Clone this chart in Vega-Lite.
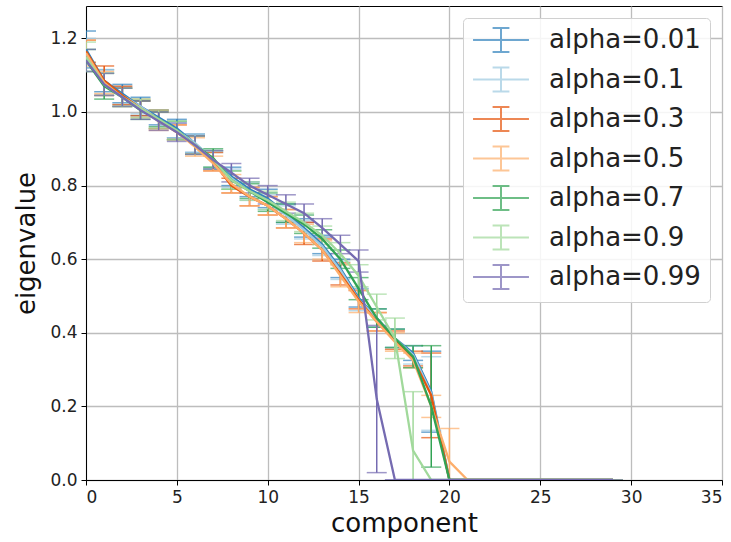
{
  "$schema": "https://vega.github.io/schema/vega-lite/v6.json",
  "autosize": {"type": "none"},
  "padding": {"left": 86, "top": 6, "right": 9, "bottom": 62},
  "width": 636,
  "height": 474,
  "background": "white",
  "config": {
    "font": "DejaVu Sans",
    "view": {"stroke": "#000", "strokeWidth": 1},
    "axis": {
      "domainColor": "#000", "domainWidth": 1,
      "tickColor": "#000", "tickSize": 5, "tickWidth": 1,
      "gridColor": "#bdbdbd", "gridWidth": 1.3,
      "labelFont": "DejaVu Sans", "labelFontSize": 17, "labelColor": "#222",
      "titleFont": "DejaVu Sans", "titleFontSize": 26, "titleFontWeight": "normal", "titleColor": "#111"
    },
    "legend": {
      "orient": "top-right", "offset": 12,
      "title": null,
      "labelFont": "DejaVu Sans", "labelFontSize": 26, "labelColor": "#222",
      "symbolType": "M-2.33,0H2.33M0,-1V1M-0.7,-1H0.7M-0.7,1H0.7",
      "symbolSize": 576, "symbolStrokeWidth": 2, "symbolOffset": 16,
      "labelOffset": 35, "rowPadding": 7.5,
      "padding": 9,
      "strokeColor": "#d0d0d0", "fillColor": "rgba(255,255,255,0.85)",
      "cornerRadius": 4
    }
  },
  "data": {"values": [
    {"c":0,"a":"alpha=0.01","m":1.17,"e":0.05},{"c":1,"a":"alpha=0.01","m":1.085,"e":0.03},{"c":2,"a":"alpha=0.01","m":1.05,"e":0.025},{"c":3,"a":"alpha=0.01","m":1.015,"e":0.025},{"c":4,"a":"alpha=0.01","m":0.985,"e":0.02},{"c":5,"a":"alpha=0.01","m":0.955,"e":0.025},{"c":6,"a":"alpha=0.01","m":0.915,"e":0.025},{"c":7,"a":"alpha=0.01","m":0.87,"e":0.025},{"c":8,"a":"alpha=0.01","m":0.825,"e":0.025},{"c":9,"a":"alpha=0.01","m":0.79,"e":0.02},{"c":10,"a":"alpha=0.01","m":0.765,"e":0.025},{"c":11,"a":"alpha=0.01","m":0.725,"e":0.025},{"c":12,"a":"alpha=0.01","m":0.685,"e":0.025},{"c":13,"a":"alpha=0.01","m":0.64,"e":0.025},{"c":14,"a":"alpha=0.01","m":0.575,"e":0.025},{"c":15,"a":"alpha=0.01","m":0.495,"e":0.025},{"c":16,"a":"alpha=0.01","m":0.44,"e":0.025},{"c":17,"a":"alpha=0.01","m":0.385,"e":0.025},{"c":18,"a":"alpha=0.01","m":0.345,"e":0.02},{"c":19,"a":"alpha=0.01","m":0.24,"e":0.11},{"c":20,"a":"alpha=0.01","m":0,"e":0},{"c":21,"a":"alpha=0.01","m":0,"e":0},{"c":22,"a":"alpha=0.01","m":0,"e":0},{"c":23,"a":"alpha=0.01","m":0,"e":0},{"c":24,"a":"alpha=0.01","m":0,"e":0},{"c":25,"a":"alpha=0.01","m":0,"e":0},{"c":26,"a":"alpha=0.01","m":0,"e":0},{"c":27,"a":"alpha=0.01","m":0,"e":0},{"c":28,"a":"alpha=0.01","m":0,"e":0},{"c":29,"a":"alpha=0.01","m":0,"e":0},
    {"c":0,"a":"alpha=0.1","m":1.16,"e":0.04},{"c":1,"a":"alpha=0.1","m":1.08,"e":0.035},{"c":2,"a":"alpha=0.1","m":1.045,"e":0.025},{"c":3,"a":"alpha=0.1","m":1.015,"e":0.02},{"c":4,"a":"alpha=0.1","m":0.98,"e":0.025},{"c":5,"a":"alpha=0.1","m":0.95,"e":0.02},{"c":6,"a":"alpha=0.1","m":0.915,"e":0.025},{"c":7,"a":"alpha=0.1","m":0.87,"e":0.02},{"c":8,"a":"alpha=0.1","m":0.82,"e":0.025},{"c":9,"a":"alpha=0.1","m":0.785,"e":0.025},{"c":10,"a":"alpha=0.1","m":0.755,"e":0.02},{"c":11,"a":"alpha=0.1","m":0.72,"e":0.025},{"c":12,"a":"alpha=0.1","m":0.68,"e":0.025},{"c":13,"a":"alpha=0.1","m":0.635,"e":0.025},{"c":14,"a":"alpha=0.1","m":0.57,"e":0.025},{"c":15,"a":"alpha=0.1","m":0.49,"e":0.03},{"c":16,"a":"alpha=0.1","m":0.44,"e":0.025},{"c":17,"a":"alpha=0.1","m":0.385,"e":0.025},{"c":18,"a":"alpha=0.1","m":0.34,"e":0.025},{"c":19,"a":"alpha=0.1","m":0.235,"e":0.1},{"c":20,"a":"alpha=0.1","m":0,"e":0},{"c":21,"a":"alpha=0.1","m":0,"e":0},{"c":22,"a":"alpha=0.1","m":0,"e":0},{"c":23,"a":"alpha=0.1","m":0,"e":0},{"c":24,"a":"alpha=0.1","m":0,"e":0},{"c":25,"a":"alpha=0.1","m":0,"e":0},{"c":26,"a":"alpha=0.1","m":0,"e":0},{"c":27,"a":"alpha=0.1","m":0,"e":0},{"c":28,"a":"alpha=0.1","m":0,"e":0},{"c":29,"a":"alpha=0.1","m":0,"e":0},
    {"c":0,"a":"alpha=0.3","m":1.165,"e":0.03},{"c":1,"a":"alpha=0.3","m":1.085,"e":0.04},{"c":2,"a":"alpha=0.3","m":1.045,"e":0.025},{"c":3,"a":"alpha=0.3","m":1.01,"e":0.02},{"c":4,"a":"alpha=0.3","m":0.98,"e":0.025},{"c":5,"a":"alpha=0.3","m":0.945,"e":0.02},{"c":6,"a":"alpha=0.3","m":0.91,"e":0.025},{"c":7,"a":"alpha=0.3","m":0.865,"e":0.025},{"c":8,"a":"alpha=0.3","m":0.8,"e":0.02},{"c":9,"a":"alpha=0.3","m":0.77,"e":0.025},{"c":10,"a":"alpha=0.3","m":0.745,"e":0.025},{"c":11,"a":"alpha=0.3","m":0.71,"e":0.025},{"c":12,"a":"alpha=0.3","m":0.67,"e":0.03},{"c":13,"a":"alpha=0.3","m":0.625,"e":0.03},{"c":14,"a":"alpha=0.3","m":0.56,"e":0.03},{"c":15,"a":"alpha=0.3","m":0.49,"e":0.025},{"c":16,"a":"alpha=0.3","m":0.43,"e":0.025},{"c":17,"a":"alpha=0.3","m":0.38,"e":0.025},{"c":18,"a":"alpha=0.3","m":0.33,"e":0.02},{"c":19,"a":"alpha=0.3","m":0.23,"e":0.115},{"c":20,"a":"alpha=0.3","m":0,"e":0},{"c":21,"a":"alpha=0.3","m":0,"e":0},{"c":22,"a":"alpha=0.3","m":0,"e":0},{"c":23,"a":"alpha=0.3","m":0,"e":0},{"c":24,"a":"alpha=0.3","m":0,"e":0},{"c":25,"a":"alpha=0.3","m":0,"e":0},{"c":26,"a":"alpha=0.3","m":0,"e":0},{"c":27,"a":"alpha=0.3","m":0,"e":0},{"c":28,"a":"alpha=0.3","m":0,"e":0},{"c":29,"a":"alpha=0.3","m":0,"e":0},
    {"c":0,"a":"alpha=0.5","m":1.16,"e":0.035},{"c":1,"a":"alpha=0.5","m":1.08,"e":0.03},{"c":2,"a":"alpha=0.5","m":1.04,"e":0.025},{"c":3,"a":"alpha=0.5","m":1.01,"e":0.025},{"c":4,"a":"alpha=0.5","m":0.975,"e":0.025},{"c":5,"a":"alpha=0.5","m":0.945,"e":0.02},{"c":6,"a":"alpha=0.5","m":0.905,"e":0.025},{"c":7,"a":"alpha=0.5","m":0.86,"e":0.02},{"c":8,"a":"alpha=0.5","m":0.805,"e":0.025},{"c":9,"a":"alpha=0.5","m":0.77,"e":0.025},{"c":10,"a":"alpha=0.5","m":0.745,"e":0.025},{"c":11,"a":"alpha=0.5","m":0.71,"e":0.025},{"c":12,"a":"alpha=0.5","m":0.67,"e":0.025},{"c":13,"a":"alpha=0.5","m":0.625,"e":0.025},{"c":14,"a":"alpha=0.5","m":0.555,"e":0.03},{"c":15,"a":"alpha=0.5","m":0.485,"e":0.03},{"c":16,"a":"alpha=0.5","m":0.43,"e":0.025},{"c":17,"a":"alpha=0.5","m":0.375,"e":0.025},{"c":18,"a":"alpha=0.5","m":0.325,"e":0.02},{"c":19,"a":"alpha=0.5","m":0.2,"e":0.03},{"c":20,"a":"alpha=0.5","m":0.05,"e":0.09},{"c":21,"a":"alpha=0.5","m":0,"e":0},{"c":22,"a":"alpha=0.5","m":0,"e":0},{"c":23,"a":"alpha=0.5","m":0,"e":0},{"c":24,"a":"alpha=0.5","m":0,"e":0},{"c":25,"a":"alpha=0.5","m":0,"e":0},{"c":26,"a":"alpha=0.5","m":0,"e":0},{"c":27,"a":"alpha=0.5","m":0,"e":0},{"c":28,"a":"alpha=0.5","m":0,"e":0},{"c":29,"a":"alpha=0.5","m":0,"e":0},
    {"c":0,"a":"alpha=0.7","m":1.14,"e":0.03},{"c":1,"a":"alpha=0.7","m":1.07,"e":0.035},{"c":2,"a":"alpha=0.7","m":1.04,"e":0.025},{"c":3,"a":"alpha=0.7","m":1.005,"e":0.025},{"c":4,"a":"alpha=0.7","m":0.98,"e":0.02},{"c":5,"a":"alpha=0.7","m":0.95,"e":0.025},{"c":6,"a":"alpha=0.7","m":0.91,"e":0.025},{"c":7,"a":"alpha=0.7","m":0.875,"e":0.025},{"c":8,"a":"alpha=0.7","m":0.815,"e":0.025},{"c":9,"a":"alpha=0.7","m":0.785,"e":0.02},{"c":10,"a":"alpha=0.7","m":0.755,"e":0.025},{"c":11,"a":"alpha=0.7","m":0.725,"e":0.025},{"c":12,"a":"alpha=0.7","m":0.695,"e":0.025},{"c":13,"a":"alpha=0.7","m":0.655,"e":0.025},{"c":14,"a":"alpha=0.7","m":0.6,"e":0.025},{"c":15,"a":"alpha=0.7","m":0.52,"e":0.03},{"c":16,"a":"alpha=0.7","m":0.44,"e":0.025},{"c":17,"a":"alpha=0.7","m":0.385,"e":0.025},{"c":18,"a":"alpha=0.7","m":0.335,"e":0.03},{"c":19,"a":"alpha=0.7","m":0.2,"e":0.165},{"c":20,"a":"alpha=0.7","m":0,"e":0},{"c":21,"a":"alpha=0.7","m":0,"e":0},{"c":22,"a":"alpha=0.7","m":0,"e":0},{"c":23,"a":"alpha=0.7","m":0,"e":0},{"c":24,"a":"alpha=0.7","m":0,"e":0},{"c":25,"a":"alpha=0.7","m":0,"e":0},{"c":26,"a":"alpha=0.7","m":0,"e":0},{"c":27,"a":"alpha=0.7","m":0,"e":0},{"c":28,"a":"alpha=0.7","m":0,"e":0},{"c":29,"a":"alpha=0.7","m":0,"e":0},
    {"c":0,"a":"alpha=0.9","m":1.15,"e":0.04},{"c":1,"a":"alpha=0.9","m":1.075,"e":0.03},{"c":2,"a":"alpha=0.9","m":1.04,"e":0.025},{"c":3,"a":"alpha=0.9","m":1.01,"e":0.025},{"c":4,"a":"alpha=0.9","m":0.98,"e":0.025},{"c":5,"a":"alpha=0.9","m":0.95,"e":0.025},{"c":6,"a":"alpha=0.9","m":0.91,"e":0.025},{"c":7,"a":"alpha=0.9","m":0.87,"e":0.025},{"c":8,"a":"alpha=0.9","m":0.815,"e":0.025},{"c":9,"a":"alpha=0.9","m":0.785,"e":0.025},{"c":10,"a":"alpha=0.9","m":0.76,"e":0.025},{"c":11,"a":"alpha=0.9","m":0.73,"e":0.025},{"c":12,"a":"alpha=0.9","m":0.7,"e":0.025},{"c":13,"a":"alpha=0.9","m":0.665,"e":0.025},{"c":14,"a":"alpha=0.9","m":0.615,"e":0.03},{"c":15,"a":"alpha=0.9","m":0.555,"e":0.03},{"c":16,"a":"alpha=0.9","m":0.47,"e":0.035},{"c":17,"a":"alpha=0.9","m":0.385,"e":0.055},{"c":18,"a":"alpha=0.9","m":0.08,"e":0.16},{"c":19,"a":"alpha=0.9","m":0,"e":0},{"c":20,"a":"alpha=0.9","m":0,"e":0},{"c":21,"a":"alpha=0.9","m":0,"e":0},{"c":22,"a":"alpha=0.9","m":0,"e":0},{"c":23,"a":"alpha=0.9","m":0,"e":0},{"c":24,"a":"alpha=0.9","m":0,"e":0},{"c":25,"a":"alpha=0.9","m":0,"e":0},{"c":26,"a":"alpha=0.9","m":0,"e":0},{"c":27,"a":"alpha=0.9","m":0,"e":0},{"c":28,"a":"alpha=0.9","m":0,"e":0},{"c":29,"a":"alpha=0.9","m":0,"e":0},
    {"c":0,"a":"alpha=0.99","m":1.14,"e":0.03},{"c":1,"a":"alpha=0.99","m":1.075,"e":0.03},{"c":2,"a":"alpha=0.99","m":1.04,"e":0.025},{"c":3,"a":"alpha=0.99","m":1.005,"e":0.025},{"c":4,"a":"alpha=0.99","m":0.975,"e":0.025},{"c":5,"a":"alpha=0.99","m":0.945,"e":0.025},{"c":6,"a":"alpha=0.99","m":0.91,"e":0.025},{"c":7,"a":"alpha=0.99","m":0.87,"e":0.025},{"c":8,"a":"alpha=0.99","m":0.835,"e":0.025},{"c":9,"a":"alpha=0.99","m":0.8,"e":0.02},{"c":10,"a":"alpha=0.99","m":0.775,"e":0.025},{"c":11,"a":"alpha=0.99","m":0.75,"e":0.025},{"c":12,"a":"alpha=0.99","m":0.725,"e":0.025},{"c":13,"a":"alpha=0.99","m":0.685,"e":0.025},{"c":14,"a":"alpha=0.99","m":0.64,"e":0.025},{"c":15,"a":"alpha=0.99","m":0.595,"e":0.03},{"c":16,"a":"alpha=0.99","m":0.22,"e":0.2},{"c":17,"a":"alpha=0.99","m":0,"e":0},{"c":18,"a":"alpha=0.99","m":0,"e":0},{"c":19,"a":"alpha=0.99","m":0,"e":0},{"c":20,"a":"alpha=0.99","m":0,"e":0},{"c":21,"a":"alpha=0.99","m":0,"e":0},{"c":22,"a":"alpha=0.99","m":0,"e":0},{"c":23,"a":"alpha=0.99","m":0,"e":0},{"c":24,"a":"alpha=0.99","m":0,"e":0},{"c":25,"a":"alpha=0.99","m":0,"e":0},{"c":26,"a":"alpha=0.99","m":0,"e":0},{"c":27,"a":"alpha=0.99","m":0,"e":0},{"c":28,"a":"alpha=0.99","m":0,"e":0},{"c":29,"a":"alpha=0.99","m":0,"e":0}
  ]},
  "encoding": {
    "x": {"field": "c", "type": "quantitative", "title": "component",
      "scale": {"domain": [0, 35], "nice": false, "zero": false},
      "axis": {"values": [0, 5, 10, 15, 20, 25, 30, 35], "labelPadding": 4, "titlePadding": 5}},
    "color": {"field": "a", "type": "nominal",
      "scale": {"domain": ["alpha=0.01", "alpha=0.1", "alpha=0.3", "alpha=0.5", "alpha=0.7", "alpha=0.9", "alpha=0.99"],
        "range": ["#3182bd", "#9ecae1", "#e6550d", "#fdae6b", "#31a354", "#a1d99b", "#756bb1"]},
      "legend": {"title": null}}
  },
  "layer": [
    {
      "mark": {"type": "errorbar", "ticks": true, "size": 20, "thickness": 1.5, "clip": true},
      "encoding": {
        "y": {"field": "m", "type": "quantitative", "title": "eigenvalue",
          "scale": {"domain": [0, 1.288], "nice": false},
          "axis": {"values": [0, 0.2, 0.4, 0.6, 0.8, 1.0, 1.2], "format": ".1f", "labelPadding": 4, "titlePadding": 10}},
        "yError": {"field": "e"}
      }
    },
    {
      "mark": {"type": "line", "strokeWidth": 2.3, "clip": true},
      "encoding": {
        "y": {"field": "m", "type": "quantitative"},
        "order": {"field": "c", "type": "quantitative"}
      }
    }
  ]
}
